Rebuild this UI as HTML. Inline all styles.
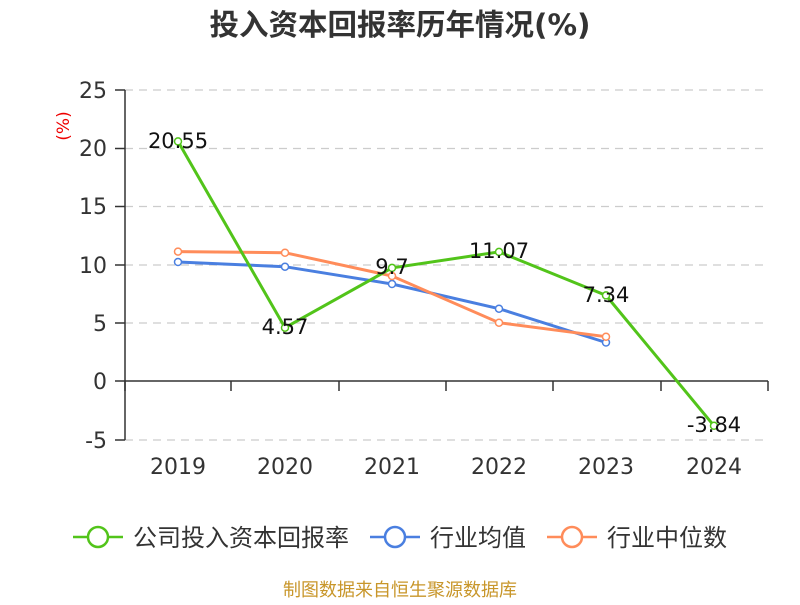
<!DOCTYPE html>
<html><head><meta charset="utf-8"><style>
body{margin:0;background:#fff;}
svg{font-family:"DejaVu Sans","Noto Sans CJK SC",sans-serif;}
</style></head><body>
<svg width="800" height="600" xmlns="http://www.w3.org/2000/svg">
<rect width="800" height="600" fill="#fff"/>
<text x="400" y="35" text-anchor="middle" font-size="29.5" font-weight="bold" fill="#333">投入资本回报率历年情况(%)</text>
<text transform="translate(69,126) rotate(-90)" text-anchor="middle" font-size="17" fill="#e00">(%)</text>
<g stroke="#ccc" stroke-dasharray="8,6" stroke-width="1.3">
<line x1="125" y1="90" x2="768" y2="90"/>
<line x1="125" y1="148.5" x2="768" y2="148.5"/>
<line x1="125" y1="206.5" x2="768" y2="206.5"/>
<line x1="125" y1="265" x2="768" y2="265"/>
<line x1="125" y1="323" x2="768" y2="323"/>
<line x1="125" y1="440" x2="768" y2="440"/>
</g>
<g stroke="#333" stroke-width="1.5">
<line x1="125" y1="90" x2="125" y2="440"/>
<line x1="115" y1="90" x2="125" y2="90"/>
<line x1="115" y1="148.5" x2="125" y2="148.5"/>
<line x1="115" y1="206.5" x2="125" y2="206.5"/>
<line x1="115" y1="265" x2="125" y2="265"/>
<line x1="115" y1="323" x2="125" y2="323"/>
<line x1="115" y1="381" x2="125" y2="381"/>
<line x1="115" y1="440" x2="125" y2="440"/>
<line x1="125" y1="381" x2="768" y2="381"/>
<line x1="125" y1="381" x2="125" y2="391"/>
<line x1="231" y1="381" x2="231" y2="391"/>
<line x1="339" y1="381" x2="339" y2="391"/>
<line x1="446" y1="381" x2="446" y2="391"/>
<line x1="553" y1="381" x2="553" y2="391"/>
<line x1="661" y1="381" x2="661" y2="391"/>
<line x1="768" y1="381" x2="768" y2="391"/>
</g>
<g font-size="22" fill="#333" text-anchor="end">
<text x="107" y="98">25</text><text x="107" y="156">20</text><text x="107" y="214">15</text>
<text x="107" y="273">10</text><text x="107" y="331">5</text><text x="107" y="389">0</text><text x="107" y="448">-5</text>
</g>
<g font-size="22" fill="#333" text-anchor="middle">
<text x="178" y="474">2019</text><text x="285" y="474">2020</text><text x="392" y="474">2021</text>
<text x="499" y="474">2022</text><text x="606" y="474">2023</text><text x="714" y="474">2024</text>
</g>
<g fill="none" stroke-width="3">
<polyline stroke="#4a7fe0" points="178,262 285,266.7 392,284 499,308.7 606,342.5"/>
<polyline stroke="#ff8c5a" points="178,251.6 285,252.7 392,276 499,322.7 606,336.7"/>
<polyline stroke="#52c41a" points="178,141.4 285,327.7 392,267.9 499,251.9 606,295.4 714,425.8"/>
</g>
<g fill="#fff" stroke-width="1.5">
<g stroke="#4a7fe0"><circle cx="178" cy="262" r="3.5"/><circle cx="285" cy="266.7" r="3.5"/><circle cx="392" cy="284" r="3.5"/><circle cx="499" cy="308.7" r="3.5"/><circle cx="606" cy="342.5" r="3.5"/></g>
<g stroke="#ff8c5a"><circle cx="178" cy="251.6" r="3.5"/><circle cx="285" cy="252.7" r="3.5"/><circle cx="392" cy="276" r="3.5"/><circle cx="499" cy="322.7" r="3.5"/><circle cx="606" cy="336.7" r="3.5"/></g>
<g stroke="#52c41a"><circle cx="178" cy="141.4" r="3.5"/><circle cx="285" cy="327.7" r="3.5"/><circle cx="392" cy="267.9" r="3.5"/><circle cx="499" cy="251.9" r="3.5"/><circle cx="606" cy="295.4" r="3.5"/><circle cx="714" cy="425.8" r="3.5"/></g>
</g>
<g font-size="21" fill="#111" text-anchor="middle">
<text x="178" y="148">20.55</text><text x="285" y="334">4.57</text><text x="392" y="274">9.7</text>
<text x="499" y="258">11.07</text><text x="606" y="302">7.34</text><text x="714" y="432">-3.84</text>
</g>
<g stroke-width="2.5" fill="#fff">
<line x1="73" y1="537" x2="123" y2="537" stroke="#52c41a"/><circle cx="98" cy="537" r="10" stroke="#52c41a"/>
<line x1="370" y1="537" x2="420" y2="537" stroke="#4a7fe0"/><circle cx="395" cy="537" r="10" stroke="#4a7fe0"/>
<line x1="547" y1="537" x2="597" y2="537" stroke="#ff8c5a"/><circle cx="572" cy="537" r="10" stroke="#ff8c5a"/>
</g>
<g font-size="24" fill="#333">
<text x="133" y="546">公司投入资本回报率</text><text x="430" y="546">行业均值</text><text x="607" y="546">行业中位数</text>
</g>
<text x="400" y="596" text-anchor="middle" font-size="18" fill="#c8962a">制图数据来自恒生聚源数据库</text>
</svg>
</body></html>
